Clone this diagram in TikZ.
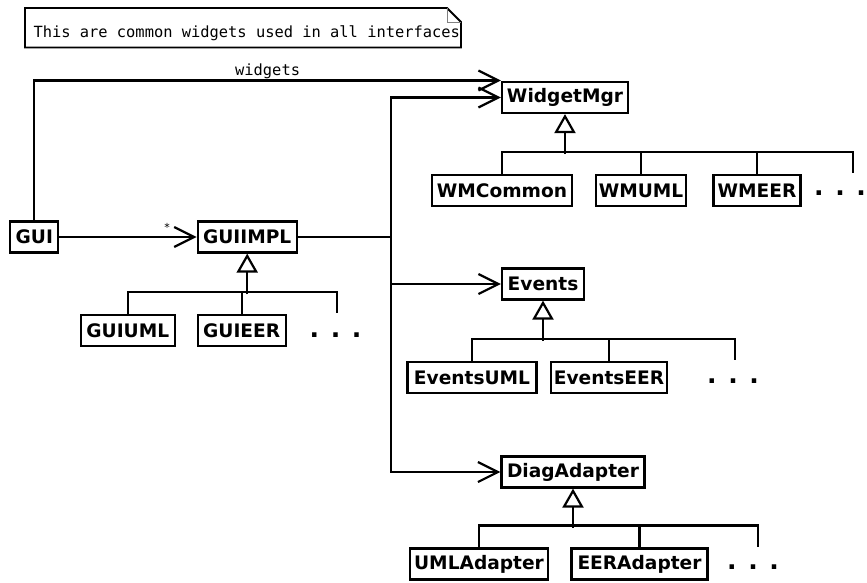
\documentclass[tikz,border=0pt]{standalone}
\usepackage{fontspec}
\usetikzlibrary{arrows.meta}
\newfontfamily\dvsans{DejaVu Sans}
\newfontfamily\dvmono{DejaVu Sans Mono}
\begin{document}
\begin{tikzpicture}[x=1pt,y=-1pt,
  cls/.style={draw, line width=2.2pt, font=\dvsans\bfseries\fontsize{18.6}{22}\selectfont,
    minimum height=31pt, inner xsep=3pt, inner ysep=0pt},
  conn/.style={line width=2.2pt},
  assoc/.style={line width=2.2pt, -{Straight Barb[length=20pt,width=20pt]}},
  gen/.style={line width=2.2pt, -{Triangle[open,length=19pt,width=21pt]}},
  dotsnode/.style={font=\dvsans\bfseries\fontsize{25}{30}\selectfont, inner sep=0pt},
  monotext/.style={font=\dvmono\fontsize{15.4}{18}\selectfont},
  ]
\useasboundingbox[fill=white] (0,0) rectangle (867,582);

% note
\node[monotext, anchor=base west, inner sep=0pt] (note) at (33.3,37.3) {This are common widgets used in all interfaces};
\draw[line width=1.8pt] (25,8) -- (447,8) -- (461,22) -- (461,47.5) -- (25,47.5) -- cycle;
\draw[line width=0.8pt, gray] (447,8) -- (447,22) -- (461,22);

% classes
\node[cls, minimum width=126pt] (WidgetMgr) at (565,97.5) {WidgetMgr};
\node[cls, minimum width=140pt] (WMCommon) at (502,190.5) {WMCommon};
\node[cls, minimum width=88pt] (WMUML) at (641,190.5) {WMUML};
\node[cls, minimum width=87pt] (WMEER) at (757,190.5) {WMEER};
\node[dotsnode] (wmdots) at (840,193) {. . .};

\node[cls, minimum width=48pt] (GUI) at (34.3,237) {GUI};
\node[cls, minimum width=99pt] (GUIIMPL) at (247.2,237) {GUIIMPL};
\node[cls, minimum width=94pt] (GUIUML) at (127.8,330.3) {GUIUML};
\node[cls, minimum width=88pt] (GUIEER) at (241.7,330.3) {GUIEER};
\node[dotsnode] (guidots) at (335.5,335) {. . .};

\node[cls, minimum width=82pt] (Events) at (543,284) {Events};
\node[cls, minimum width=129pt] (EventsUML) at (472,377.5) {EventsUML};
\node[cls, minimum width=116pt] (EventsEER) at (609,377.5) {EventsEER};
\node[dotsnode] (evdots) at (733,381) {. . .};

\node[cls, minimum width=143pt] (DiagAdapter) at (573,472) {DiagAdapter};
\node[cls, minimum width=138pt] (UMLAdapter) at (479,564) {UMLAdapter};
\node[cls, minimum width=136pt] (EERAdapter) at (639.5,564) {EERAdapter};
\node[dotsnode] (dadots) at (753,567) {. . .};

% generalizations
\coordinate (wmend) at (853,173);
\draw[conn] (WMCommon.north) -- ++(0,-22) -| (wmend);
\draw[conn] (WMUML.north) -- ++(0,-22);
\draw[conn] (WMEER.north) -- ++(0,-22);
\draw[gen] ([yshift=-40pt]WidgetMgr.south) -- (WidgetMgr.south);

\coordinate (guiend) at (337.3,313.3);
\draw[conn] (GUIUML.north) -- ++(0,-21.5) -| (guiend);
\draw[conn] (GUIEER.north) -- ++(0,-21.5);
\draw[gen] ([yshift=-40.8pt]GUIIMPL.south) -- (GUIIMPL.south);

\coordinate (evend) at (735,360);
\draw[conn] (EventsUML.north) -- ++(0,-22) -| (evend);
\draw[conn] (EventsEER.north) -- ++(0,-22);
\draw[gen] ([yshift=-40.5pt]Events.south) -- (Events.south);

\coordinate (daend) at (758.3,546.7);
\draw[conn] (UMLAdapter.north) -- ++(0,-22) -| (daend);
\draw[conn] (EERAdapter.north) -- ++(0,-22);
\draw[gen] ([yshift=-39pt]DiagAdapter.south) -- (DiagAdapter.south);

% associations
\draw[assoc] (GUI.east) -- (GUIIMPL.west);
\node[font=\dvsans\fontsize{11}{13}\selectfont, inner sep=0pt] (star) at (167,227) {*};
\draw[assoc] (GUI.north) |- node[pos=0.75, monotext, anchor=south, inner sep=0.5pt] (wlabel) {widgets} ([yshift=17pt]WidgetMgr.west);
\draw[assoc] (GUIIMPL.east) -- ++(93.3,0) |- (WidgetMgr.west);
\draw[assoc] (GUIIMPL.east) -- ++(93.3,0) |- (Events.west);
\draw[assoc] (GUIIMPL.east) -- ++(93.3,0) |- (DiagAdapter.west);
\end{tikzpicture}
\end{document}
